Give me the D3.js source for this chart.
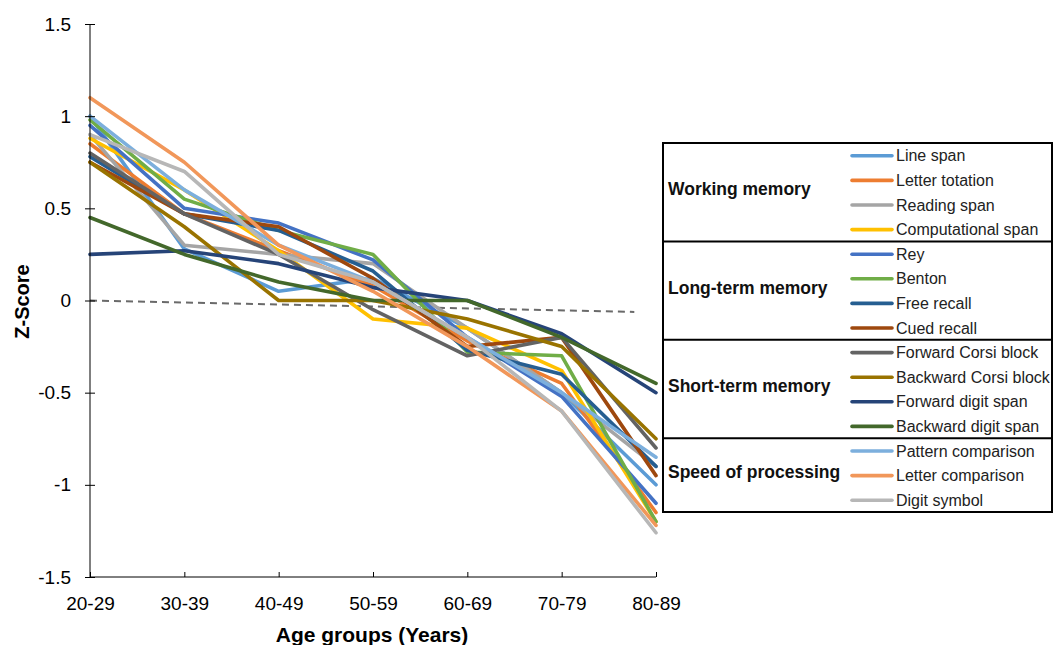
<!DOCTYPE html>
<html>
<head>
<meta charset="utf-8">
<script src="https://cdn.jsdelivr.net/npm/d3@7"></script>
<style>
  html, body { margin: 0; padding: 0; background: #fff; }
  svg { display: block; font-family: "Liberation Sans", Arial, sans-serif; }
</style>
</head>
<body>
<svg id="chart" width="1053" height="645"></svg>
<script>
// Age groups on the x axis
const ageGroups = ["20-29", "30-39", "40-49", "50-59", "60-69", "70-79", "80-89"];
const yTicks = [-1.5, -1, -0.5, 0, 0.5, 1, 1.5];

// Mean z-scores per task, one value per age group
const lineSpan          = [1.00, 0.28, 0.05, 0.12, -0.15, -0.50, -1.00];
const letterTotation    = [0.85, 0.47, 0.27, 0.08, -0.22, -0.45, -1.15];
const readingSpan       = [0.90, 0.30, 0.25, 0.20, -0.15, -0.50, -0.90];
const computationalSpan = [0.88, 0.60, 0.27, -0.10, -0.15, -0.38, -1.20];
const rey               = [0.95, 0.50, 0.42, 0.22, -0.20, -0.52, -1.10];
const benton            = [0.98, 0.55, 0.38, 0.25, -0.28, -0.30, -1.20];
const freeRecall        = [0.78, 0.47, 0.38, 0.16, -0.27, -0.40, -0.90];
const cuedRecall        = [0.75, 0.47, 0.40, 0.12, -0.25, -0.20, -0.95];
const forwardCorsi      = [0.80, 0.47, 0.25, -0.05, -0.30, -0.20, -0.80];
const backwardCorsi     = [0.75, 0.40, 0.00, 0.00, -0.10, -0.25, -0.75];
const forwardDigit      = [0.25, 0.27, 0.20, 0.07, 0.00, -0.18, -0.50];
const backwardDigit     = [0.45, 0.25, 0.10, 0.00, 0.00, -0.20, -0.45];
const patternComparison = [1.00, 0.60, 0.30, 0.10, -0.20, -0.50, -0.85];
const letterComparison  = [1.10, 0.75, 0.30, 0.05, -0.25, -0.60, -1.22];
const digitSymbol       = [0.90, 0.70, 0.25, 0.10, -0.20, -0.60, -1.26];

// Linear trend of the overall mean (age index, z)
const trendIndex = [0, 5.77];
const trendValue = [0, -0.062];

const groups = [
  { name: "Working memory", tasks: [
    { label: "Line span", values: lineSpan, color: "#5B9BD5" },
    { label: "Letter totation", values: letterTotation, color: "#ED7D31" },
    { label: "Reading span", values: readingSpan, color: "#A5A5A5" },
    { label: "Computational span", values: computationalSpan, color: "#FFC000" } ] },
  { name: "Long-term memory", tasks: [
    { label: "Rey", values: rey, color: "#4472C4" },
    { label: "Benton", values: benton, color: "#70AD47" },
    { label: "Free recall", values: freeRecall, color: "#255E91" },
    { label: "Cued recall", values: cuedRecall, color: "#9E480E" } ] },
  { name: "Short-term memory", tasks: [
    { label: "Forward Corsi block", values: forwardCorsi, color: "#636363" },
    { label: "Backward Corsi block", values: backwardCorsi, color: "#997300" },
    { label: "Forward digit span", values: forwardDigit, color: "#264478" },
    { label: "Backward digit span", values: backwardDigit, color: "#43682B" } ] },
  { name: "Speed of processing", tasks: [
    { label: "Pattern comparison", values: patternComparison, color: "#7CAFDD" },
    { label: "Letter comparison", values: letterComparison, color: "#F1975A" },
    { label: "Digit symbol", values: digitSymbol, color: "#B7B7B7" } ] }
];

const svg = d3.select("#chart");
const plot = { left: 90, right: 656, top: 24, bottom: 577 };

const x = d3.scalePoint().domain(ageGroups).range([plot.left, plot.right]);
const xi = d3.scaleLinear().domain([0, ageGroups.length - 1]).range([plot.left, plot.right]);
const y = d3.scaleLinear().domain([-1.5, 1.5]).range([plot.bottom, plot.top]);

// Trend line
svg.append("line")
  .attr("x1", xi(trendIndex[0])).attr("y1", y(trendValue[0]))
  .attr("x2", xi(trendIndex[1])).attr("y2", y(trendValue[1]))
  .attr("stroke", "#6a6a6a").attr("stroke-width", 2)
  .attr("stroke-dasharray", "7,5");

// Series lines
const line = d3.line().x((d, i) => x(ageGroups[i])).y(d => y(d));
const allTasks = groups.flatMap(g => g.tasks);
svg.append("g").selectAll("path").data(allTasks).join("path")
  .attr("d", d => line(d.values))
  .attr("fill", "none")
  .attr("stroke", d => d.color)
  .attr("stroke-width", 3.6)
  .attr("stroke-linejoin", "round")
  .attr("stroke-linecap", "round");

// Y axis
const yAxis = svg.append("g").attr("transform", `translate(${plot.left},0)`)
  .call(d3.axisLeft(y).tickValues(yTicks).tickSize(5).tickFormat(d => String(d)).tickPadding(14));
yAxis.select(".domain").attr("stroke", "#000").attr("d", `M0,${plot.top}V${plot.bottom}`);
yAxis.selectAll(".tick line").attr("x1", -5).attr("x2", 5).attr("stroke", "#000");
yAxis.selectAll(".tick text").attr("font-size", 19).attr("fill", "#000")
  .attr("font-family", "Liberation Sans, Arial, sans-serif");

// X axis
const xAxis = svg.append("g").attr("transform", `translate(0,${plot.bottom})`)
  .call(d3.axisBottom(x).tickSize(0).tickPadding(20));
xAxis.select(".domain").attr("stroke", "#000").attr("d", `M${plot.left},0H${plot.right}`);
xAxis.selectAll(".tick line").attr("y2", -5).attr("stroke", "#000");
xAxis.selectAll(".tick text").attr("font-size", 19).attr("fill", "#000")
  .attr("font-family", "Liberation Sans, Arial, sans-serif");

// Axis titles
svg.append("text")
  .attr("transform", `translate(29,${(plot.top + plot.bottom) / 2 + 1}) rotate(-90)`)
  .attr("text-anchor", "middle").attr("font-weight", "bold").attr("font-size", 20)
  .text("Z-Score");
svg.append("text")
  .attr("x", 372).attr("y", 642)
  .attr("text-anchor", "middle").attr("font-weight", "bold").attr("font-size", 21)
  .text("Age groups (Years)");

// Grouped legend
const legend = { left: 663, right: 1052, top: 143, rowH: 24.6 };
const lg = svg.append("g");
let rowY = legend.top;
const bounds = [legend.top];
groups.forEach(g => {
  const gTop = rowY;
  g.tasks.forEach(t => {
    const cy = rowY + legend.rowH / 2 + 0.5;
    lg.append("line").attr("x1", 852).attr("x2", 892).attr("y1", cy).attr("y2", cy)
      .attr("stroke", t.color).attr("stroke-width", 3.6).attr("stroke-linecap", "round");
    lg.append("text").attr("x", 896).attr("y", cy + 5.5).attr("font-size", 16).attr("fill", "#222")
      .text(t.label);
    rowY += legend.rowH;
  });
  lg.append("text").attr("x", 668).attr("y", (gTop + rowY) / 2 + 3)
    .attr("font-size", 17.5).attr("font-weight", "bold").attr("fill", "#111")
    .text(g.name);
  bounds.push(rowY);
});
lg.append("rect").attr("x", legend.left).attr("y", legend.top)
  .attr("width", legend.right - legend.left).attr("height", rowY - legend.top)
  .attr("fill", "none").attr("stroke", "#000").attr("stroke-width", 2);
bounds.slice(1, -1).forEach(b => {
  lg.append("line").attr("x1", legend.left).attr("x2", legend.right).attr("y1", b).attr("y2", b)
    .attr("stroke", "#000").attr("stroke-width", 2);
});
</script>
</body>
</html>
